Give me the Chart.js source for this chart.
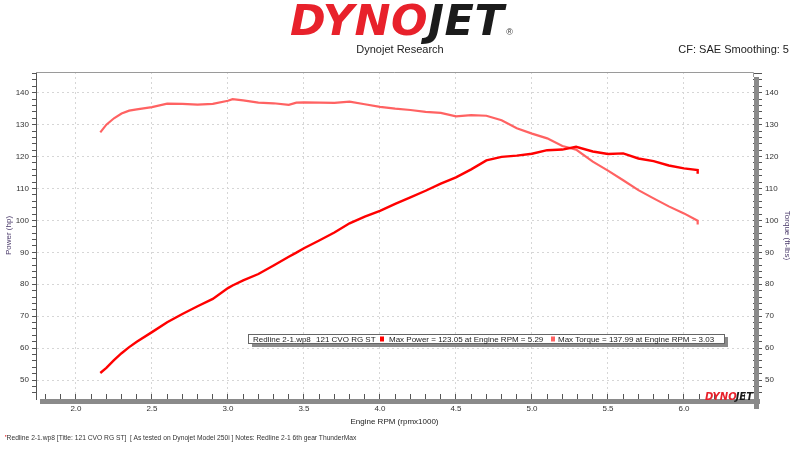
<!DOCTYPE html>
<html>
<head>
<meta charset="utf-8">
<script src="https://cdn.jsdelivr.net/npm/chart.js@4.4.1/dist/chart.umd.min.js"></script>
<style>
  body { margin: 0; background: #fff; font-family: "Liberation Sans", Arial, sans-serif; }
  #wrap { position: relative; width: 800px; height: 450px; overflow: hidden; }
  #c { position: absolute; left: 0; top: 0; }
  #logo { position: absolute; left: 290px; top: -5px; font: oblique bold 43px "DejaVu Sans", "Liberation Sans", sans-serif; letter-spacing: 0.5px; white-space: nowrap; }
  #logo .r { color: #e8212b; }
  #logo .k { color: #1b1b1b; }
  #logo .reg { font: normal 9px "Liberation Sans", Arial, sans-serif; color: #333; margin-left: 2px; }
  #sub { position: absolute; left: 0; width: 800px; top: 43px; text-align: center; font-size: 11px; color: #222; }
  #cf { position: absolute; right: 11px; top: 43px; font-size: 11px; color: #222; }
  #foot { position: absolute; left: 5px; top: 434px; font-size: 6.7px; color: #333; white-space: nowrap; }
  #foot .mk { color: #e00; font-weight: bold; }
</style>
</head>
<body>
<div id="wrap">
  <canvas id="c" width="800" height="450"></canvas>
  <div id="logo"><span class="r">DYNO</span><span class="k">JET</span><span class="reg">®</span></div>
  <div id="sub">Dynojet Research</div>
  <div id="cf">CF: SAE Smoothing: 5</div>
  <div id="foot"><span class="mk">'</span>Redline 2-1.wp8 [Title: 121 CVO RG ST]&nbsp; [ As tested on Dynojet Model 250i ] Notes: Redline 2-1 6th gear ThunderMax</div>
</div>
<script>
// engine rpm (x1000)
const rpm = [2.16, 2.2, 2.25, 2.3, 2.35, 2.4, 2.5, 2.6, 2.7, 2.8, 2.9, 3.0, 3.03, 3.1, 3.2, 3.3, 3.4, 3.45, 3.5, 3.6, 3.7, 3.8, 3.9,
  4.0, 4.1, 4.2, 4.3, 4.4, 4.5, 4.6, 4.7, 4.8, 4.9, 5.0, 5.1, 5.2, 5.29, 5.4, 5.5, 5.6, 5.7, 5.8, 5.9, 6.0, 6.09, 6.09];
// power (hp)
const power = [52.2, 53.8, 56.2, 58.4, 60.3, 62.0, 65.0, 68.1, 70.7, 73.1, 75.4, 78.8, 79.6, 81.2, 83.2, 85.9, 88.6, 89.9, 91.3, 93.7, 96.2, 99.1, 101.2,
  103.0, 105.2, 107.2, 109.3, 111.5, 113.5, 116.0, 118.8, 119.9, 120.3, 120.9, 122.0, 122.2, 123.05, 121.6, 120.8, 121.0, 119.4, 118.6, 117.2, 116.3, 115.8, 114.6];
// torque (ft-lbs)
const torque = [127.6, 130.0, 132.0, 133.5, 134.4, 134.8, 135.5, 136.6, 136.5, 136.3, 136.5, 137.5, 137.99, 137.6, 136.9, 136.7, 136.2, 136.9, 137.0, 136.9, 136.8, 137.2, 136.4,
  135.6, 135.0, 134.6, 134.0, 133.7, 132.6, 133.0, 132.8, 131.4, 128.9, 127.2, 125.7, 123.3, 122.2, 118.4, 115.6, 112.6, 109.5, 106.9, 104.4, 102.2, 99.9, 98.7];

const runName = "Redline 2-1.wp8";
const runTitle = "121 CVO RG ST";
const maxPowerText = "Max Power = 123.05 at Engine RPM = 5.29";
const maxTorqueText = "Max Torque = 137.99 at Engine RPM = 3.03";

const powerColor = "#ff0000";
const torqueColor = "#ff6262";

const isHalf = v => Math.abs(v * 2 - Math.round(v * 2)) < 1e-6;
const isTen = v => Math.abs(v % 10) < 1e-6;

Chart.defaults.font.family = '"Liberation Sans", Arial, sans-serif';
Chart.defaults.font.size = 8;
Chart.defaults.color = "#333";

// frame, shadow bars, run info box, small logo
const decor = {
  id: "decor",
  afterDraw(chart) {
    const { ctx, chartArea: a } = chart;
    ctx.save();
    ctx.strokeStyle = "#9a9a9a";
    ctx.lineWidth = 1;
    ctx.beginPath();
    ctx.moveTo(a.left, a.top + 0.5);
    ctx.lineTo(a.right + 0.5, a.top + 0.5);
    ctx.lineTo(a.right + 0.5, a.top + 5);
    ctx.stroke();
    ctx.fillStyle = "#8a8a8a";
    ctx.fillRect(a.left + 4, a.bottom, a.right - a.left + 3, 5);
    ctx.fillRect(a.right + 1, a.top + 5, 5, a.bottom - a.top + 5);

    // run info box
    const bx = a.left + 212, by = a.bottom - 65, bw = 476, bh = 9;
    ctx.fillStyle = "#8a8a8a";
    ctx.fillRect(bx + 4, by + 3, bw, bh + 1);
    ctx.fillStyle = "#fff";
    ctx.fillRect(bx, by, bw, bh);
    ctx.strokeStyle = "#666";
    ctx.strokeRect(bx + 0.5, by + 0.5, bw, bh);
    ctx.fillStyle = "#222";
    ctx.font = '8px "Liberation Sans", Arial, sans-serif';
    ctx.textBaseline = "middle";
    const ty = by + bh / 2 + 1;
    ctx.fillText(runName, bx + 5, ty);
    ctx.fillText(runTitle, bx + 68, ty);
    ctx.fillStyle = powerColor;
    ctx.fillRect(bx + 132, ty - 3, 4, 5);
    ctx.fillStyle = "#222";
    ctx.fillText(maxPowerText, bx + 141, ty);
    ctx.fillStyle = torqueColor;
    ctx.fillRect(bx + 303, ty - 3, 4, 5);
    ctx.fillStyle = "#222";
    ctx.fillText(maxTorqueText, bx + 310, ty);

    // small logo
    ctx.font = 'oblique bold 10px "DejaVu Sans", "Liberation Sans", sans-serif';
    ctx.textBaseline = "alphabetic";
    const lx = a.right - 48;
    ctx.fillStyle = "#e8212b";
    ctx.fillText("DYNO", lx, a.bottom + 1);
    const w = ctx.measureText("DYNO").width;
    ctx.fillStyle = "#1b1b1b";
    ctx.fillText("JET", lx + w - 1, a.bottom + 1);
    ctx.restore();
  }
};

const yTicks = {
  stepSize: 2,
  includeBounds: false,
  autoSkip: false,
  maxTicksLimit: 200,
  maxRotation: 0,
  callback: v => (isTen(v) ? v : "")
};

new Chart(document.getElementById("c"), {
  type: "line",
  data: {
    datasets: [
      {
        label: "Power",
        data: rpm.map((x, i) => ({ x, y: power[i] })),
        borderColor: powerColor,
        borderWidth: 2.4,
        pointRadius: 0,
        tension: 0,
        yAxisID: "y"
      },
      {
        label: "Torque",
        data: rpm.map((x, i) => ({ x, y: torque[i] })),
        borderColor: torqueColor,
        borderWidth: 2.2,
        pointRadius: 0,
        tension: 0,
        yAxisID: "y1"
      }
    ]
  },
  options: {
    responsive: false,
    animation: false,
    layout: { padding: { top: 72, bottom: 18, left: 0, right: 0 } },
    plugins: { legend: { display: false }, tooltip: { enabled: false } },
    scales: {
      x: {
        type: "linear",
        min: 1.737,
        max: 6.454,
        afterFit: s => { s.height = 33; },
        ticks: {
          stepSize: 0.1,
          includeBounds: false,
          autoSkip: false,
          maxTicksLimit: 200,
          maxRotation: 0,
          padding: 10,
          callback: v => (isHalf(v) ? v.toFixed(1) : "")
        },
        grid: {
          color: c => (c.tick && isHalf(c.tick.value) ? "#d6d6d6" : "rgba(0,0,0,0)"),
          tickColor: "#555",
          tickLength: -5
        },
        border: { display: false, dash: [2, 3] },
        title: { display: true, text: "Engine RPM (rpmx1000)", color: "#222", font: { size: 8 }, padding: { top: 2, bottom: 5 } }
      },
      y: {
        position: "left",
        min: 44.05,
        max: 146.5,
        afterFit: s => { s.width = 36; },
        ticks: { ...yTicks, padding: 3 },
        grid: {
          color: c => (c.tick && isTen(c.tick.value) ? "#d6d6d6" : "rgba(0,0,0,0)"),
          tickColor: "#555",
          tickLength: 4
        },
        border: { display: true, color: "#555", width: 1, dash: [2, 3] },
        title: { display: true, text: "Power (hp)", color: "#4b3b6b", font: { size: 8 }, padding: { top: 4, bottom: 2 } }
      },
      y1: {
        position: "right",
        min: 44.05,
        max: 146.5,
        afterFit: s => { s.width = 47; },
        ticks: { ...yTicks, padding: 3 },
        grid: { drawOnChartArea: false, tickColor: "#555", tickLength: 9 },
        border: { display: false },
        title: { display: true, text: "Torque (ft-lbs)", color: "#4b3b6b", font: { size: 8 }, padding: { top: 8, bottom: 2 } }
      }
    }
  },
  plugins: [decor]
});
</script>
</body>
</html>
